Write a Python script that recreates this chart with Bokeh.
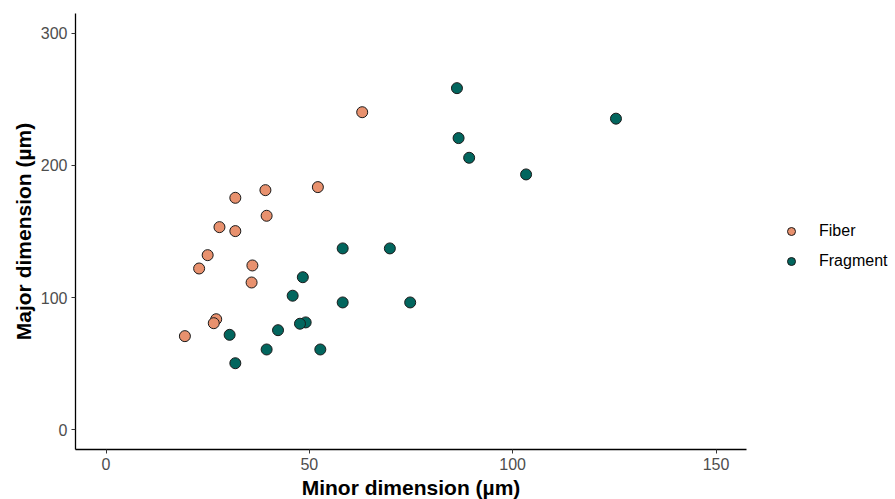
from bokeh.plotting import figure
from bokeh.models import Range1d, FixedTicker, Legend, LegendItem
from bokeh.embed import file_html
from bokeh.resources import INLINE

# Data
fiber_minor = [31.8, 39.2, 52.1, 39.5, 27.9, 31.8, 25.0, 22.9, 36.0, 35.8, 27.1, 26.5, 19.4, 63.0]
fiber_major = [175.5, 181.3, 183.6, 161.9, 153.3, 150.3, 132.1, 122.0, 124.3, 111.4, 83.6, 80.6, 70.8, 240.3]

frag_minor = [58.2, 48.4, 45.9, 58.2, 49.1, 47.7, 42.3, 30.4, 39.5, 52.7, 31.8, 69.8, 74.8,
              86.3, 125.4, 86.7, 89.3, 103.3]
frag_major = [137.2, 115.4, 101.4, 96.3, 81.2, 80.2, 75.3, 71.8, 60.7, 60.7, 50.3, 137.2, 96.3,
              258.5, 235.4, 220.7, 205.8, 193.2]

x_ticks = [0, 50, 100, 150]
y_ticks = [0, 100, 200, 300]
categories = ["Fiber", "Fragment"]
colors = ["#E8916E", "#02665E"]

FONT = "Liberation Sans"

p = figure(frame_width=671, frame_height=436,
           x_range=Range1d(-7.5, 157.5), y_range=Range1d(-15, 315),
           output_backend="svg", toolbar_location=None,
           min_border_left=75, min_border_right=149, min_border_top=13, min_border_bottom=50)
p.outline_line_color = None
p.xgrid.visible = False
p.ygrid.visible = False
p.background_fill_color = "white"
p.border_fill_color = "white"

r1 = p.scatter(fiber_minor, fiber_major, size=11, fill_color=colors[0],
               line_color="#1a1a1a", line_width=1)
r2 = p.scatter(frag_minor, frag_major, size=11, fill_color=colors[1],
               line_color="#1a1a1a", line_width=1)

for ax, ticks in ((p.xaxis[0], x_ticks), (p.yaxis[0], y_ticks)):
    ax.ticker = FixedTicker(ticks=ticks)
    ax.minor_tick_line_color = None
    ax.major_tick_in = 0
    ax.major_tick_out = 4
    ax.major_tick_line_color = "#333333"
    ax.axis_line_color = "black"
    ax.axis_line_width = 1.3
    ax.major_label_text_color = "#4D4D4D"
    ax.major_label_text_font = FONT
    ax.major_label_text_font_size = "16px"
    ax.major_label_standoff = 4
    ax.axis_label_text_font = FONT
    ax.axis_label_text_font_style = "bold"
    ax.axis_label_text_font_size = "21px"
    ax.axis_label_text_color = "black"
    ax.axis_label_standoff = 3

p.xaxis.axis_label = "Minor dimension (µm)"
p.yaxis.axis_label = "Major dimension (µm)"

legend = Legend(items=[LegendItem(label=categories[0], renderers=[r1]),
                       LegendItem(label=categories[1], renderers=[r2])],
                location=(35, 178), orientation="vertical",
                glyph_width=20, glyph_height=20, spacing=10, padding=0, margin=0,
                label_standoff=18, label_text_font=FONT, label_text_font_size="16px",
                label_text_color="black", border_line_color=None,
                background_fill_color=None)
p.add_layout(legend, "right")

open("out.html", "w").write(file_html(p, INLINE))
